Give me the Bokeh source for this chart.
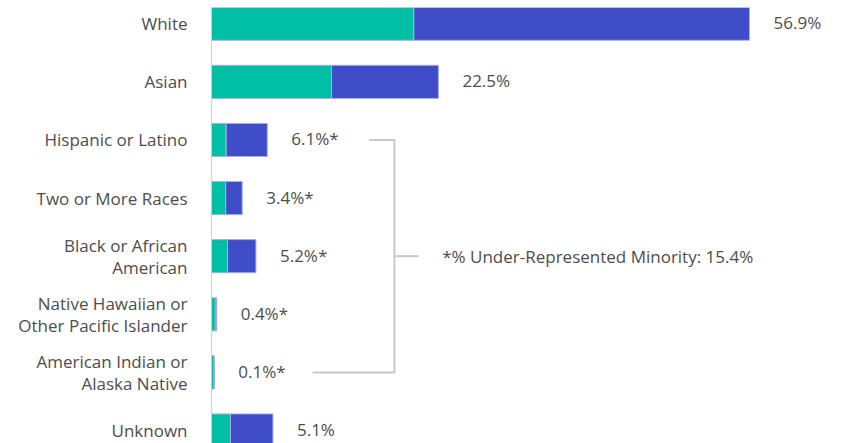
from bokeh.plotting import figure
from bokeh.models import Range1d, FixedTicker, ColumnDataSource
from bokeh.core.properties import value
from bokeh.embed import file_html
from bokeh.resources import INLINE

categories = ["White", "Asian", "Hispanic or Latino", "Two or More Races",
              "Black or African\nAmerican", "Native Hawaiian or\nOther Pacific Islander",
              "American Indian or\nAlaska Native", "Unknown"]
teal_vals = [21.4, 12.7, 1.55, 1.5, 1.7, 0.4, 0.28, 2.0]
blue_vals = [35.5, 11.3, 4.35, 1.75, 3.0, 0.15, 0.02, 4.5]
pct_labels = ["56.9%", "22.5%", "6.1%*", "3.4%*", "5.2%*", "0.4%*", "0.1%*", "5.1%"]
urm_note = "*% Under-Represented Minority: 15.4%"
urm_rows = [2, 4, 6]  # first, middle, last row of the bracket

FONT = "Open Sans"
TXT = "#4d4d4d"
TEAL = "#00bfa5"
BLUE = "#3f4dc9"

ypos = list(range(len(categories)))
totals = [t + b for t, b in zip(teal_vals, blue_vals)]

src = ColumnDataSource(dict(y=ypos, teal=teal_vals, total=totals, lab=pct_labels))

p = figure(width=841, height=443, output_backend="svg", toolbar_location=None,
           x_range=Range1d(0, 66.63), y_range=Range1d(7.224, -0.28),
           min_border_left=211, min_border_right=0, min_border_top=7, min_border_bottom=0)
p.outline_line_color = None
p.xgrid.visible = False
p.ygrid.visible = False
p.xaxis.visible = False

p.hbar(y="y", left=0, right="teal", height=0.57, source=src,
       fill_color=TEAL, line_color="#aab0dd", line_width=1)
p.hbar(y="y", left="teal", right="total", height=0.57, source=src,
       fill_color=BLUE, line_color="#aab0dd", line_width=1)

p.text(x="total", y="y", text="lab", source=src, x_offset=24, y_offset=-1,
       text_align="left", text_baseline="middle", text_color=TXT,
       text_font=value(FONT), text_font_size="17px")

yax = p.yaxis[0]
yax.ticker = FixedTicker(ticks=ypos)
yax.major_label_overrides = {i: c for i, c in enumerate(categories)}
yax.major_tick_line_color = None
yax.minor_tick_line_color = None
yax.major_tick_out = 0
yax.major_tick_in = 0
yax.major_label_standoff = 24
yax.axis_line_color = "#c8cce0"
yax.major_label_text_font = FONT
yax.major_label_text_font_size = "17px"
yax.major_label_text_color = TXT
yax.major_label_text_line_height = 0.95

# bracket annotation
bx = 19.35
top_start = 16.7
bot_start = 10.7
mid_end = 21.9
note_x = 24.4
r0, rm, r1 = urm_rows
p.multi_line(xs=[[top_start, bx, bx, bot_start], [bx, mid_end]],
             ys=[[r0, r0, r1, r1], [rm, rm]],
             line_color="#c8c8c8", line_width=2)
p.text(x=[note_x], y=[rm], text=[urm_note], text_align="left", text_baseline="middle",
       text_color=TXT, text_font=value(FONT), text_font_size="17px")

open("out.html", "w").write(file_html(p, INLINE))
